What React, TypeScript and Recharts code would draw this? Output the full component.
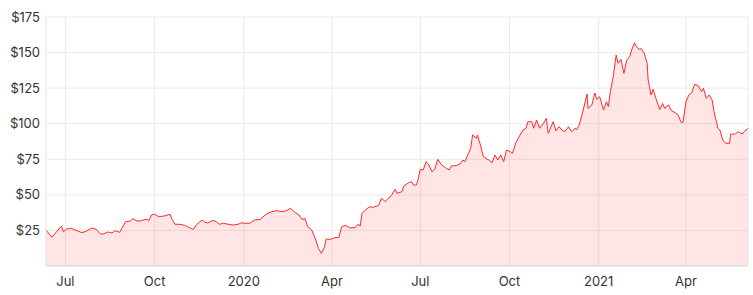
import React from "react";
import { AreaChart, Area, XAxis, YAxis, CartesianGrid } from "recharts";

const dates: string[] = [
  "2019-06-11","2019-06-17","2019-06-27","2019-06-29","2019-07-02","2019-07-07","2019-07-13","2019-07-18","2019-07-23","2019-07-28",
  "2019-08-02","2019-08-06","2019-08-09","2019-08-14","2019-08-18","2019-08-21","2019-08-26","2019-09-01","2019-09-06","2019-09-09",
  "2019-09-12","2019-09-16","2019-09-19","2019-09-23","2019-09-25","2019-09-28","2019-10-01","2019-10-05","2019-10-10","2019-10-17",
  "2019-10-19","2019-10-22","2019-10-27","2019-11-01","2019-11-06","2019-11-10","2019-11-13","2019-11-19","2019-11-22","2019-11-25",
  "2019-11-29","2019-12-02","2019-12-07","2019-12-11","2019-12-16","2019-12-21","2019-12-26","2019-12-30","2020-01-02","2020-01-07",
  "2020-01-12","2020-01-18","2020-01-23","2020-01-27","2020-01-30","2020-02-04","2020-02-09","2020-02-14","2020-02-18","2020-02-23",
  "2020-02-27","2020-03-01","2020-03-04","2020-03-07","2020-03-11","2020-03-14","2020-03-18","2020-03-21","2020-03-24","2020-03-26",
  "2020-03-30","2020-04-04","2020-04-08","2020-04-11","2020-04-15","2020-04-19","2020-04-25","2020-04-28","2020-04-30","2020-05-02",
  "2020-05-06","2020-05-10","2020-05-13","2020-05-19","2020-05-22","2020-05-26","2020-05-29","2020-06-01","2020-06-05","2020-06-07",
  "2020-06-12","2020-06-14","2020-06-19","2020-06-22","2020-06-24","2020-06-27","2020-06-29","2020-07-01","2020-07-04","2020-07-07",
  "2020-07-10","2020-07-13","2020-07-16","2020-07-19","2020-07-23","2020-07-28","2020-07-31","2020-08-02","2020-08-07","2020-08-11",
  "2020-08-14","2020-08-16","2020-08-20","2020-08-22","2020-08-24","2020-08-28","2020-08-29","2020-09-01","2020-09-04","2020-09-08",
  "2020-09-10","2020-09-13","2020-09-16","2020-09-19","2020-09-22","2020-09-25","2020-09-28","2020-10-02","2020-10-04","2020-10-08",
  "2020-10-12","2020-10-15","2020-10-18","2020-10-20","2020-10-24","2020-10-26","2020-10-29","2020-11-01","2020-11-05","2020-11-08",
  "2020-11-10","2020-11-13","2020-11-15","2020-11-18","2020-11-21","2020-11-24","2020-11-27","2020-12-01","2020-12-04","2020-12-08",
  "2020-12-09","2020-12-12","2020-12-16","2020-12-20","2020-12-21","2020-12-25","2020-12-28","2020-12-30","2021-01-02","2021-01-06",
  "2021-01-09","2021-01-11","2021-01-13","2021-01-16","2021-01-19","2021-01-21","2021-01-24","2021-01-27","2021-01-30","2021-02-02",
  "2021-02-04","2021-02-07","2021-02-09","2021-02-12","2021-02-14","2021-02-17","2021-02-20","2021-02-21","2021-02-24","2021-02-26",
  "2021-03-01","2021-03-05","2021-03-08","2021-03-10","2021-03-14","2021-03-17","2021-03-21","2021-03-24","2021-03-27","2021-03-29",
  "2021-04-01","2021-04-04","2021-04-07","2021-04-10","2021-04-14","2021-04-17","2021-04-19","2021-04-22","2021-04-25","2021-04-28",
  "2021-04-30","2021-05-04","2021-05-06","2021-05-09","2021-05-12","2021-05-16","2021-05-17","2021-05-22","2021-05-25","2021-05-29",
  "2021-05-31","2021-06-03","2021-06-04",
];

const prices: number[] = [
  25.3, 20.2, 28.1, 24.0, 26.0, 26.5, 24.8, 23.4, 24.6, 26.7,
  25.8, 22.5, 22.5, 23.9, 23.2, 24.8, 23.7, 31.1, 31.6, 33.3,
  31.8, 31.6, 32.3, 32.8, 31.8, 36.0, 36.4, 34.7, 35.0, 36.3,
  32.8, 29.3, 29.3, 28.6, 26.9, 25.8, 28.8, 32.3, 30.7, 30.2,
  31.8, 31.8, 29.3, 30.0, 29.3, 28.8, 29.3, 30.4, 30.0, 30.0,
  32.3, 32.8, 35.8, 37.5, 38.2, 38.9, 38.2, 38.9, 40.5, 37.5,
  35.8, 32.8, 33.3, 27.6, 25.3, 20.6, 12.4, 8.9, 13.1, 19.0,
  18.7, 19.9, 20.1, 27.6, 28.6, 26.9, 26.9, 29.5, 28.0, 37.0,
  39.8, 41.7, 41.2, 42.5, 47.6, 45.2, 47.6, 49.4, 53.9, 51.1,
  52.2, 56.2, 58.5, 59.3, 56.9, 56.9, 61.6, 68.0, 67.5, 73.3,
  71.0, 66.3, 68.0, 75.0, 71.0, 68.6, 67.5, 70.3, 70.5, 71.7,
  74.5, 73.3, 79.6, 82.7, 92.1, 89.7, 92.1, 85.0, 77.0, 75.0,
  74.5, 72.6, 78.0, 74.5, 78.0, 73.3, 81.5, 80.3, 79.2, 87.4,
  92.1, 95.6, 96.8, 101.4, 101.4, 96.8, 102.6, 96.8, 100.3, 103.8,
  93.3, 97.9, 101.4, 94.9, 97.9, 95.6, 94.4, 97.9, 94.4, 96.8,
  95.6, 99.1, 109.6, 120.8, 110.8, 113.2, 121.6, 117.0, 119.0, 109.6,
  115.5, 112.0, 122.5, 133.0, 148.3, 142.5, 145.3, 135.4, 144.8, 147.1,
  151.8, 156.9, 154.1, 152.3, 152.7, 149.5, 142.5, 130.7, 120.2, 124.2,
  117.9, 110.0, 114.3, 110.8, 113.2, 109.1, 107.7, 106.1, 101.0, 101.0,
  115.5, 120.2, 121.8, 127.7, 126.5, 122.5, 124.9, 117.9, 120.2, 116.7,
  108.4, 96.8, 95.6, 88.6, 86.2, 86.2, 92.6, 92.8, 94.4, 92.8,
  94.4, 96.1, 96.8,
];

const xTickDates: string[] = [
  "2019-07-01","2019-10-01","2020-01-01","2020-04-01","2020-07-01","2020-10-01","2021-01-01","2021-04-01",
];
const yTicks: number[] = [25, 50, 75, 100, 125, 150, 175];
const monthNames: string[] = ["Jan","Feb","Mar","Apr","May","Jun","Jul","Aug","Sep","Oct","Nov","Dec"];

const toTs = (d: string) => Date.parse(d + "T00:00:00Z");
const data = dates.map((d, i) => ({ t: toTs(d), v: prices[i] }));
const xTicks = xTickDates.map(toTs);

const fmtX = (t: number) => {
  const d = new Date(t);
  const m = d.getUTCMonth();
  return m === 0 ? String(d.getUTCFullYear()) : monthNames[m];
};

const FONT = "Inter, 'Open Sans', sans-serif";

export default function App() {
  return (
    <div style={{ position: "absolute", left: 0, top: 0, width: 753, height: 295, background: "#fff" }}>
      <AreaChart width={753} height={295} data={data} margin={{ top: 17, right: 5, left: 0, bottom: 0 }}>
        <CartesianGrid stroke="#ebebeb" vertical={true} horizontal={true} />
        <XAxis
          dataKey="t"
          type="number"
          scale="time"
          domain={["dataMin", "dataMax"]}
          ticks={xTicks}
          tickFormatter={fmtX}
          tickLine={false}
          tickSize={0}
          tickMargin={11}
          axisLine={{ stroke: "#dcdcdc" }}
          height={29}
          tick={{ fill: "#333", fontSize: 13, fontFamily: FONT }}
        />
        <YAxis
          type="number"
          domain={[0, 175]}
          ticks={yTicks}
          tickFormatter={(v: number) => "$" + v}
          tickLine={false}
          tickSize={0}
          tickMargin={6}
          axisLine={{ stroke: "#ebebeb" }}
          width={46}
          tick={{ fill: "#333", fontSize: 13, fontFamily: FONT }}
        />
        <Area
          type="linear"
          dataKey="v"
          stroke="#ff2a2a"
          strokeWidth={1}
          fill="#ff0000"
          fillOpacity={0.1}
          dot={false}
          activeDot={false}
          isAnimationActive={false}
        />
      </AreaChart>
    </div>
  );
}
